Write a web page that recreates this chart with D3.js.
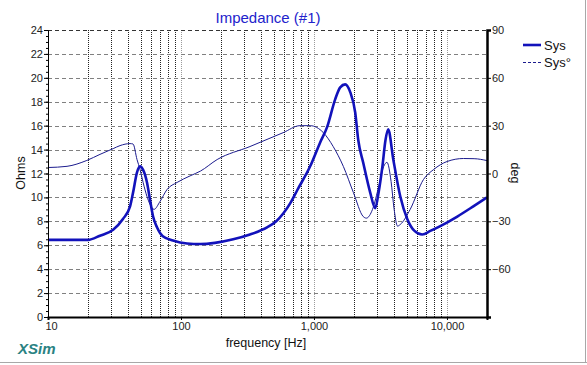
<!DOCTYPE html>
<html>
<head>
<meta charset="utf-8">
<script src="https://cdn.jsdelivr.net/npm/d3@7"></script>
<style>
	body { margin: 0; background: #fff; }
	svg { display: block; }
</style>
</head>
<body>
<div class="chart"></div>
<script>
// impedance magnitude (Sys)
const impFreq = [10, 15, 20, 24.6, 30.9, 36.6, 41.4, 43.6, 46.7, 49.2, 51.9, 55.5, 58.5, 61.7, 66, 73, 87, 111, 140, 180, 247, 330, 444, 520, 587, 662, 748, 936, 1113, 1257, 1443, 1575, 1717, 1873, 2042, 2152, 2346, 2648, 2887, 3070, 3270, 3450, 3615, 3945, 4453, 5027, 5700, 6518, 7500, 8907, 11960, 15780, 20000]
const impOhms = [6.45, 6.45, 6.45, 6.8, 7.3, 8.2, 9.25, 10.4, 12.1, 12.6, 12.3, 11.25, 9.8, 8.4, 7.5, 6.75, 6.4, 6.15, 6.1, 6.2, 6.5, 6.9, 7.5, 8.0, 8.65, 9.5, 10.6, 12.6, 14.6, 15.9, 18.2, 19.2, 19.45, 18.8, 17.1, 14.8, 12.9, 10.4, 9.1, 10.5, 12.6, 14.8, 15.7, 13.2, 10.1, 8.2, 7.2, 6.9, 7.2, 7.6, 8.4, 9.25, 10.0]

// impedance phase (Sys°)
const phaseFreq = [10, 13.9, 19.6, 24.6, 30.9, 34.8, 41.4, 43.6, 46.7, 49.2, 51.9, 55.5, 58.5, 62.7, 69.6, 78.6, 93.5, 117, 140, 187, 330, 586, 785, 936, 1177, 1395, 1664, 1980, 2346, 2476, 2755, 3070, 3342, 3540, 3800, 4000, 4250, 4453, 5290, 6660, 7940, 10000, 13300, 16000, 20000]
const phaseDeg = [3.75, 4.5, 8.2, 12, 15.6, 17.5, 18.75, 18.5, 8.75, 2.5, -5.6, -14.4, -19.4, -22.5, -17.5, -10, -5.6, -1.5, 1.5, 8.75, 16.9, 25.6, 30, 30, 25.6, 16.9, 4.4, -12, -27, -28, -22.5, -8, 4.4, 7, -5, -22, -33, -32, -22.5, -3.75, 2.5, 7.5, 9.4, 9.3, 8.1]

const ohmTicks = d3.range(0, 25, 2)
const degTicks = [90, 60, 30, 0, -30, -60]
const freqTicks = [10, 100, 1000, 10000]

const width = 587,
	height = 365
const font = 'Arial, "Liberation Sans", sans-serif'

const svg = d3.select('.chart').append('svg')
	.attr('width', width)
	.attr('height', height)
	.style('font-family', font)

const x = d3.scaleLog().domain([10, 20000]).range([48, 487])
const y = d3.scaleLinear().domain([0, 24]).range([317, 30])
const yDeg = d3.scaleLinear().domain([-90, 90]).range([317, 30])

// panel border (right / bottom)
svg.append('line').attr('x1', 0).attr('x2', width).attr('y1', 362.5).attr('y2', 362.5)
	.attr('stroke', '#a8a8a8')
svg.append('line').attr('x1', 585.5).attr('x2', 585.5).attr('y1', 0).attr('y2', 363)
	.attr('stroke', '#a8a8a8')

// vertical grid: every 1..9 x decade
const gridFreqs = []
for (let d = 10; d <= 10000; d *= 10) {
	for (let k = 1; k <= 9; k++) {
		const f = k * d
		if (f > 10 && f < 20000) gridFreqs.push(f)
	}
}
svg.append('g').selectAll('line')
	.data(gridFreqs)
	.join('line')
	.attr('x1', d => Math.round(x(d)) + 0.5)
	.attr('x2', d => Math.round(x(d)) + 0.5)
	.attr('y1', y(24))
	.attr('y2', y(0))
	.attr('stroke', d => freqTicks.includes(d) ? '#9a9a9a' : '#222')
	.attr('stroke-width', 1)
	.attr('stroke-dasharray', '1,1')

// horizontal grid
svg.append('g').selectAll('line')
	.data(ohmTicks.filter(d => d > 0))
	.join('line')
	.attr('x1', x(10))
	.attr('x2', x(20000))
	.attr('y1', d => Math.round(y(d)) + 0.5)
	.attr('y2', d => Math.round(y(d)) + 0.5)
	.attr('stroke', d => d === 24 ? '#333' : '#808080')
	.attr('stroke-dasharray', '4,3')

// curves
const impData = impFreq.map((f, i) => ({ f, v: impOhms[i] }))
const phaseData = phaseFreq.map((f, i) => ({ f, v: phaseDeg[i] }))

svg.append('path')
	.datum(phaseData)
	.attr('fill', 'none')
	.attr('stroke', '#1c1c8e')
	.attr('stroke-width', 1)
	.attr('d', d3.line().x(d => x(d.f)).y(d => yDeg(d.v)).curve(d3.curveMonotoneX))

svg.append('path')
	.datum(impData)
	.attr('fill', 'none')
	.attr('stroke', '#1212bb')
	.attr('stroke-width', 2.6)
	.attr('stroke-linejoin', 'round')
	.attr('d', d3.line().x(d => x(d.f)).y(d => y(d.v)).curve(d3.curveMonotoneX))

// left axis
svg.append('g')
	.attr('transform', 'translate(48,0)')
	.call(d3.axisLeft(y).tickValues(ohmTicks).tickSize(4).tickPadding(1))
svg.append('g')
	.attr('transform', 'translate(48,0)')
	.call(d3.axisLeft(y).tickValues(d3.range(0, 24.01, 0.5)).tickSize(2).tickFormat(''))
	.call(g => g.select('.domain').remove())

// right axis
const rightAxis = svg.append('g')
	.attr('transform', 'translate(487,0)')
	.call(d3.axisRight(yDeg).tickValues(degTicks).tickSize(4).tickPadding(1))
rightAxis.select('.domain').attr('stroke-width', 2.5)

// bottom axis
const bottomAxis = svg.append('g')
	.attr('transform', 'translate(0,317)')
	.call(d3.axisBottom(x).tickValues(freqTicks).tickSize(3).tickPadding(2).tickFormat(d3.format(',')))
bottomAxis.select('.domain').attr('stroke-width', 2)

svg.selectAll('.tick text')
	.style('font-family', font)
	.style('font-size', '11px')
	.attr('fill', '#222')
bottomAxis.selectAll('.tick text').attr('dx', d => d === 10 ? 3 : 0)

// titles
svg.append('text')
	.attr('x', 268)
	.attr('y', 23)
	.attr('text-anchor', 'middle')
	.style('font-size', '15px')
	.attr('fill', '#2222cc')
	.text('Impedance (#1)')

svg.append('text')
	.attr('x', 266)
	.attr('y', 347)
	.attr('text-anchor', 'middle')
	.style('font-size', '12.5px')
	.attr('fill', '#111')
	.text('frequency [Hz]')

svg.append('text')
	.attr('text-anchor', 'middle')
	.attr('transform', 'translate(25,173) rotate(-90)')
	.style('font-size', '12.5px')
	.attr('fill', '#111')
	.text('Ohms')

svg.append('text')
	.attr('text-anchor', 'middle')
	.attr('transform', 'translate(511,173) rotate(90)')
	.style('font-size', '12.5px')
	.attr('fill', '#111')
	.text('deg')

svg.append('text')
	.attr('x', 18)
	.attr('y', 354)
	.style('font-size', '15px')
	.style('font-weight', 'bold')
	.style('font-style', 'italic')
	.attr('fill', '#2a8282')
	.text('XSim')

// legend
const legend = svg.append('g')
legend.append('line').attr('x1', 523).attr('x2', 541).attr('y1', 45).attr('y2', 45)
	.attr('stroke', '#1212bb').attr('stroke-width', 2.6)
legend.append('text').attr('x', 544).attr('y', 50).style('font-size', '13px').attr('fill', '#111').text('Sys')
legend.append('line').attr('x1', 523).attr('x2', 541).attr('y1', 62.5).attr('y2', 62.5)
	.attr('stroke', '#1c1c8e').attr('stroke-dasharray', '3,2')
legend.append('text').attr('x', 544).attr('y', 67).style('font-size', '13px').attr('fill', '#111').text('Sys°')
</script>
</body>
</html>
